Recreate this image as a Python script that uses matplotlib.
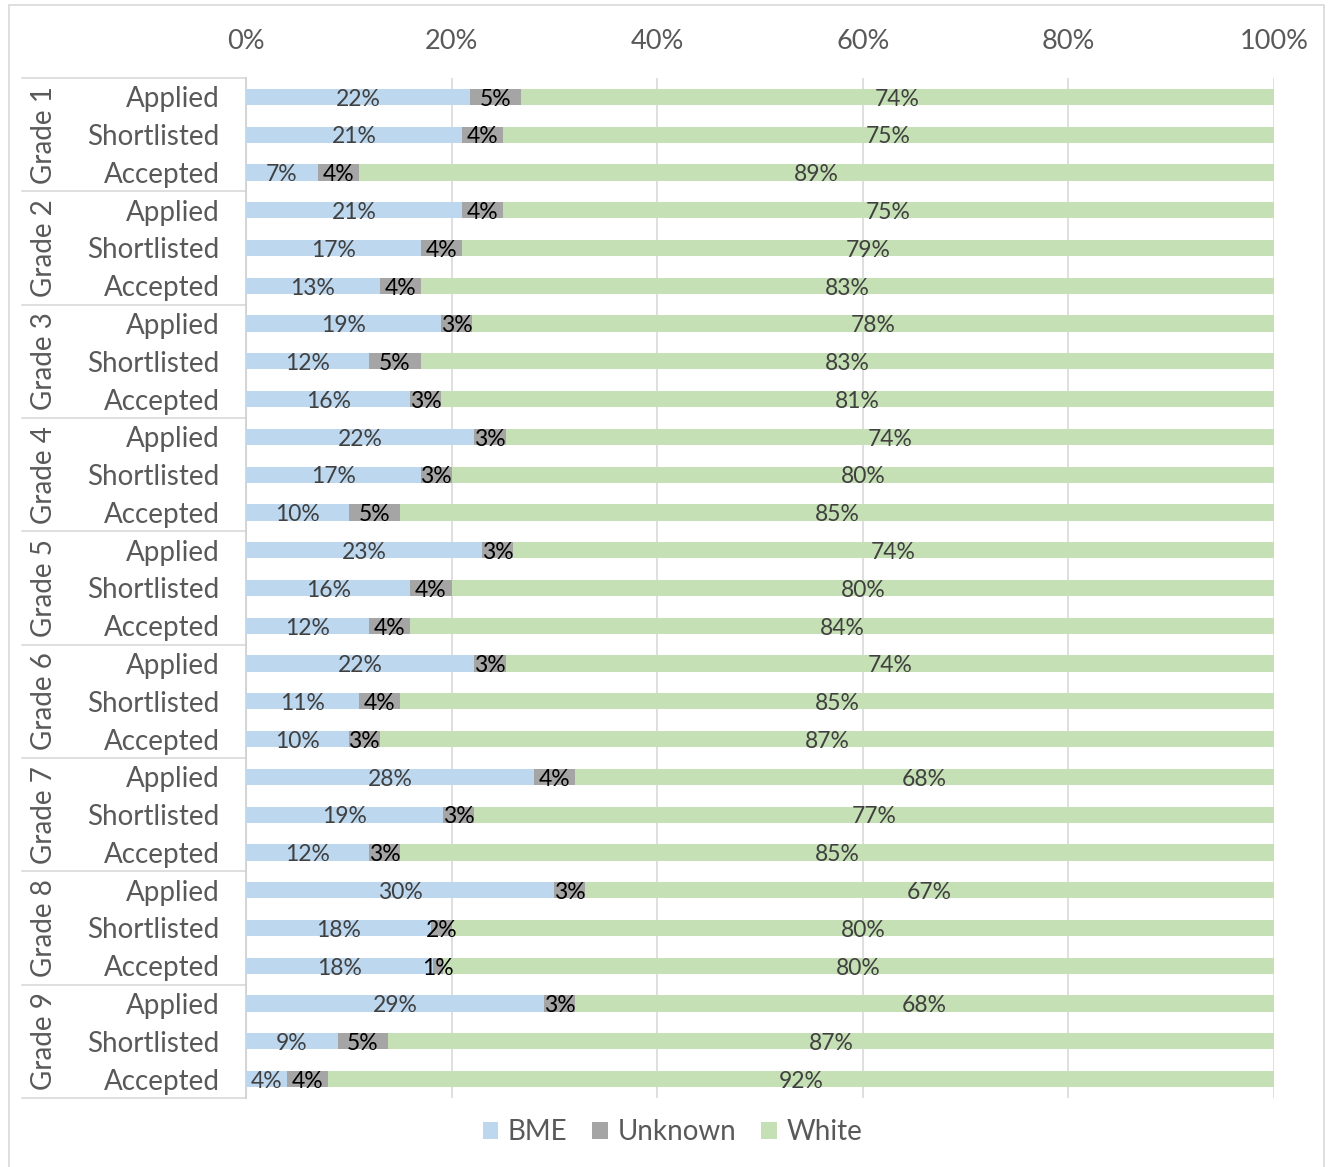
import matplotlib
matplotlib.use("Agg")
import matplotlib.pyplot as plt
import matplotlib.transforms as mtransforms
from matplotlib.patches import Rectangle
import numpy as np

plt.rcParams['font.family'] = ['Lato', 'DejaVu Sans']

grades = ["Grade 1", "Grade 2", "Grade 3", "Grade 4", "Grade 5",
          "Grade 6", "Grade 7", "Grade 8", "Grade 9"]
stages = ["Applied", "Shortlisted", "Accepted"]

# Percentages per grade, in stage order (Applied, Shortlisted, Accepted)
bme = [22, 21, 7,
       21, 17, 13,
       19, 12, 16,
       22, 17, 10,
       23, 16, 12,
       22, 11, 10,
       28, 19, 12,
       30, 18, 18,
       29, 9, 4]
unknown = [5, 4, 4,
           4, 4, 4,
           3, 5, 3,
           3, 3, 5,
           3, 4, 4,
           3, 4, 3,
           4, 3, 3,
           3, 2, 1,
           3, 5, 4]
white = [74, 75, 89,
         75, 79, 83,
         78, 83, 81,
         74, 80, 85,
         74, 80, 84,
         74, 85, 87,
         68, 77, 85,
         67, 80, 80,
         68, 87, 92]

series_names = ["BME", "Unknown", "White"]
series_colors = ["#BDD7EE", "#A5A5A5", "#C5E0B4"]
label_colors = ["#404040", "#000000", "#404040"]
x_ticks = [0, 20, 40, 60, 80, 100]

W, H = 1329, 1167
fig = plt.figure(figsize=(W / 100, H / 100), dpi=100)
fig.patches.append(Rectangle((9 / W, -0.05), (1324 - 9) / W, 1.05 - 5 / H,
                             transform=fig.transFigure, fill=False,
                             edgecolor="#D9D9D9", linewidth=1.2))

ax = fig.add_axes([246 / W, 1 - 1098 / H, (1274 - 246) / W, (1098 - 78) / H])

data = np.array([bme, unknown, white], dtype=float)
totals = data.sum(axis=0)
shares = data / totals * 100  # 100% stacked

n = data.shape[1]
y = np.arange(n)
left = np.zeros(n)
bar_h = 0.43
bars = []
for i, name in enumerate(series_names):
    b = ax.barh(y, shares[i], left=left, height=bar_h, color=series_colors[i],
                label=name, zorder=3)
    bars.append(b)
    for j in range(n):
        ax.text(left[j] + shares[i][j] / 2, y[j] + 0.06, f"{int(data[i][j])}%",
                ha="center", va="center", fontsize=16.5, color=label_colors[i],
                zorder=4)
    left += shares[i]

ax.set_xlim(0, 100)
ax.set_ylim(n - 0.5, -0.5)
ax.set_xticks(x_ticks)
ax.set_xticklabels([f"{t}%" for t in x_ticks])
ax.xaxis.tick_top()
ax.tick_params(axis="x", length=0, pad=17, labelsize=19.5, labelcolor="#595959")
ax.set_yticks(y)
ax.set_yticklabels([stages[j % 3] for j in range(n)])
ax.tick_params(axis="y", length=0, pad=19, labelsize=20, labelcolor="#595959")
ax.grid(axis="x", color="#D9D9D9", linewidth=1.2, zorder=0)
for s in ["top", "right", "bottom"]:
    ax.spines[s].set_visible(False)
ax.spines["left"].set_color("#D0D0D0")
ax.spines["left"].set_linewidth(1.2)

# Multi-level category table on the left
tr = mtransforms.blended_transform_factory(fig.transFigure, ax.transData)
for k in range(len(grades) + 1):
    ax.plot([22 / W, 246 / W], [3 * k - 0.5, 3 * k - 0.5], transform=tr,
            color="#D9D9D9", linewidth=1.2, clip_on=False)
for k, g in enumerate(grades):
    ax.text(44 / W, 3 * k + 1, g, transform=tr, rotation=90, ha="center",
            va="center", fontsize=20, color="#595959")

fig.legend(handles=bars, labels=series_names, loc="center",
           bbox_to_anchor=(0.506, 1 - 1132 / H), ncol=3, frameon=False,
           fontsize=20, labelcolor="#595959", handlelength=0.55,
           handleheight=0.55, handletextpad=0.35, columnspacing=0.9)

fig.savefig("out.png", dpi=100)
